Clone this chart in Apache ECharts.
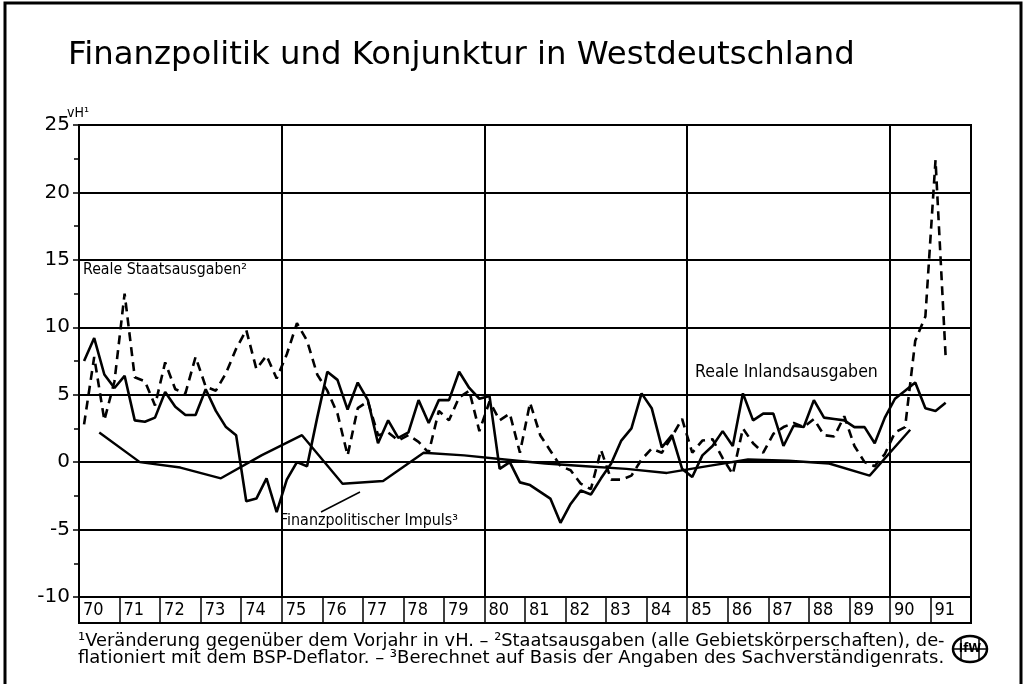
<!DOCTYPE html>
<html><head><meta charset="utf-8">
<script src="https://cdn.jsdelivr.net/npm/echarts@6/dist/echarts.min.js"></script>
<style>html,body{margin:0;padding:0;background:#fff}#c{width:1029px;height:684px}</style>
</head><body><div id="c"></div>
<script>
// Quarterly data, 1970 Q1 .. 1991 Q2 (vH)
const inlandsausgaben = [
  7.5, 9.2, 6.5, 5.5,   // 70
  6.4, 3.1, 3.0, 3.3,   // 71
  5.2, 4.1, 3.5, 3.5,   // 72
  5.4, 3.8, 2.6, 2.0,   // 73
  -2.9, -2.7, -1.2, -3.7, // 74
  -1.3, 0.0, -0.3, 3.3, // 75
  6.7, 6.1, 3.9, 5.9,   // 76
  4.6, 1.4, 3.1, 1.8,   // 77
  2.2, 4.6, 2.9, 4.6,   // 78
  4.6, 6.7, 5.5, 4.7,   // 79
  4.9, -0.5, 0.0, -1.5, // 80
  -1.7, -2.2, -2.7, -4.5, // 81
  -3.1, -2.1, -2.4, -1.2, // 82
  -0.1, 1.6, 2.5, 5.1,  // 83
  4.0, 1.1, 2.0, -0.5,  // 84
  -1.1, 0.5, 1.2, 2.3,  // 85
  1.2, 5.1, 3.1, 3.6,   // 86
  3.6, 1.2, 2.7, 2.6,   // 87
  4.6, 3.3, 3.2, 3.1,   // 88
  2.6, 2.6, 1.4, 3.3,   // 89
  4.7, 5.3, 5.9, 4.0,   // 90
  3.8, 4.4              // 91
];
const staatsausgaben = [
  2.8, 7.8, 3.1, 6.0,   // 70
  12.5, 6.3, 6.0, 4.2,  // 71
  7.4, 5.4, 5.1, 7.8,   // 72
  5.6, 5.3, 6.6, 8.4,   // 73
  9.8, 6.9, 7.9, 6.2,   // 74
  8.0, 10.3, 9.0, 6.5,  // 75
  5.3, 3.6, 0.5, 4.0,   // 76
  4.5, 2.0, 2.2, 1.6,   // 77
  2.0, 1.5, 0.7, 3.8,   // 78
  3.1, 4.8, 5.3, 2.3,   // 79
  4.5, 3.1, 3.6, 0.7,   // 80
  4.4, 2.0, 0.85, -0.3, // 81
  -0.6, -1.6, -2.0, 0.9, // 82
  -1.3, -1.3, -1.0, 0.2, // 83
  1.0, 0.7, 1.9, 3.2,   // 84
  0.7, 1.6, 1.7, 0.3,   // 85
  -0.9, 2.5, 1.4, 0.7,  // 86
  2.1, 2.6, 2.9, 2.6,   // 87
  3.2, 2.0, 1.9, 3.4,   // 88
  1.2, 0.0, -0.3, 0.6,  // 89
  2.2, 2.6, 9.0, 10.8,  // 90
  22.4, 7.8             // 91
];
// Annual data, 1970 .. 1990 (plotted at mid-year)
const impuls = [2.2, 0.0, -0.4, -1.2, 0.5, 2.0, -1.6, -1.4, 0.7, 0.5, 0.2,
                -0.1, -0.3, -0.5, -0.8, -0.3, 0.2, 0.1, -0.1, -1.0, 2.4];
const firstYear = 70, lastYear = 92;
const yTicks = {min: -10, max: 25, step: 5};

const title = 'Finanzpolitik und Konjunktur in Westdeutschland';
const unitLabel = 'vH¹';
const nameStaat = 'Reale Staatsausgaben²';
const nameInland = 'Reale Inlandsausgaben';
const nameImpuls = 'Finanzpolitischer Impuls³';
const foot1 = '¹Veränderung gegenüber dem Vorjahr in vH. – ²Staatsausgaben (alle Gebietskörperschaften), de-';
const foot2 = 'flationiert mit dem BSP-Deflator. – ³Berechnet auf Basis der Angaben des Sachverständigenrats.';

const quarterly = arr => arr.map((v, i) => [firstYear + 0.125 + 0.25 * i, v]);
const annual = arr => arr.map((v, i) => [firstYear + 0.5 + i, v]);

const FF = '"DejaVu Sans", sans-serif';
const FC = '"DejaVu Sans Condensed", "DejaVu Sans", sans-serif';
const mctx = document.createElement('canvas').getContext('2d');
function fitSize(text, family, width) {
  mctx.font = '100px ' + family;
  return 100 * width / mctx.measureText(text).width;
}

const chart = echarts.init(document.getElementById('c'), null, {renderer: 'canvas'});
const L = 79, W = 892, T = 125, H = 472;
chart.setOption({
  animation: false,
  backgroundColor: '#fff',
  grid: [
    {left: L, top: T, width: W, height: H, show: true, borderColor: '#000', borderWidth: 2},
    {left: L, top: T + H, width: W, height: 26, show: true, borderColor: '#000', borderWidth: 2}
  ],
  xAxis: [
    {type: 'value', gridIndex: 0, min: firstYear, max: lastYear, interval: 5,
     axisLine: {show: false}, axisTick: {show: false}, axisLabel: {show: false},
     splitLine: {show: true, lineStyle: {color: '#000', width: 2}}},
    {type: 'value', gridIndex: 1, min: firstYear, max: lastYear, interval: 1,
     axisLine: {show: false}, axisTick: {show: false},
     axisLabel: {show: true, inside: true, align: 'left', verticalAlign: 'bottom', margin: 4,
       padding: [0, 0, 0, 4], color: '#000', fontFamily: FC, fontSize: 18,
       formatter: v => (v < lastYear ? String(v) : '')},
     splitLine: {show: true, lineStyle: {color: '#000', width: 1.5}}}
  ],
  yAxis: [
    {type: 'value', gridIndex: 0, min: yTicks.min, max: yTicks.max, interval: yTicks.step,
     axisLine: {show: false},
     axisTick: {show: true, length: 6, lineStyle: {color: '#000', width: 1.5}},
     minorTick: {show: true, splitNumber: 2, length: 5, lineStyle: {color: '#000', width: 1.5}},
     axisLabel: {color: '#000', fontFamily: FF, fontSize: 20, margin: 9},
     splitLine: {show: true, lineStyle: {color: '#000', width: 2}}},
    {type: 'value', gridIndex: 1, show: false, min: 0, max: 1}
  ],
  series: [
    {name: nameStaat, type: 'line', xAxisIndex: 0, yAxisIndex: 0, data: quarterly(staatsausgaben),
     showSymbol: false, lineStyle: {color: '#000', width: 2.6, type: [9, 6]}, z: 3},
    {name: nameInland, type: 'line', xAxisIndex: 0, yAxisIndex: 0, data: quarterly(inlandsausgaben),
     showSymbol: false, lineStyle: {color: '#000', width: 2.6}, z: 4},
    {name: nameImpuls, type: 'line', xAxisIndex: 0, yAxisIndex: 0, data: annual(impuls),
     showSymbol: false, lineStyle: {color: '#000', width: 2.4}, z: 4}
  ],
  graphic: [
    {type: 'rect', shape: {x: 5, y: 3, width: 1016, height: 700},
     style: {fill: 'none', stroke: '#000', lineWidth: 3}, z: 10},
    {type: 'text', left: 68, top: 40, style: {text: title, fill: '#000',
      font: fitSize(title, FF, 787).toFixed(2) + 'px ' + FF}},
    {type: 'text', x: 67, y: 113, style: {text: unitLabel, fill: '#000', font: '14px ' + FC,
      verticalAlign: 'middle'}},
    {type: 'text', x: 83, y: 270, style: {text: nameStaat, fill: '#000', verticalAlign: 'middle',
      font: fitSize(nameStaat, FC, 164).toFixed(2) + 'px ' + FC}, z: 20},
    {type: 'text', x: 695, y: 372, style: {text: nameInland, fill: '#000', verticalAlign: 'middle',
      font: fitSize(nameInland, FC, 183).toFixed(2) + 'px ' + FC}, z: 20},
    {type: 'text', x: 280, y: 521, style: {text: nameImpuls, fill: '#000', verticalAlign: 'middle',
      font: fitSize(nameImpuls, FC, 178).toFixed(2) + 'px ' + FC}, z: 20},
    {type: 'line', shape: {x1: 321, y1: 512, x2: 360, y2: 492}, style: {stroke: '#000', lineWidth: 1.5}, z: 20},
    {type: 'text', x: 78, y: 641, style: {text: foot1, fill: '#000', verticalAlign: 'middle',
      font: fitSize(foot1, FF, 867).toFixed(2) + 'px ' + FF}},
    {type: 'text', x: 78, y: 658, style: {text: foot2, fill: '#000', verticalAlign: 'middle',
      font: fitSize(foot2, FF, 866).toFixed(2) + 'px ' + FF}},
    {type: 'group', x: 970, y: 649, children: [
      {type: 'ellipse', shape: {cx: 0, cy: 0, rx: 17, ry: 13}, style: {fill: '#fff', stroke: '#000', lineWidth: 2.5}},
      {type: 'line', shape: {x1: -17, y1: 0, x2: 17, y2: 0}, style: {stroke: '#000', lineWidth: 1.5}},
      {type: 'line', shape: {x1: -9, y1: -11, x2: -9, y2: 11}, style: {stroke: '#000', lineWidth: 1.5}},
      {type: 'line', shape: {x1: 9, y1: -11, x2: 9, y2: 11}, style: {stroke: '#000', lineWidth: 1.5}},
      {type: 'text', x: 0, y: 0, style: {text: 'IfW', fill: '#000', font: 'bold 13px ' + FC,
        align: 'center', verticalAlign: 'middle', stroke: '#fff', lineWidth: 0}}
    ]}
  ]
});
</script></body></html>
